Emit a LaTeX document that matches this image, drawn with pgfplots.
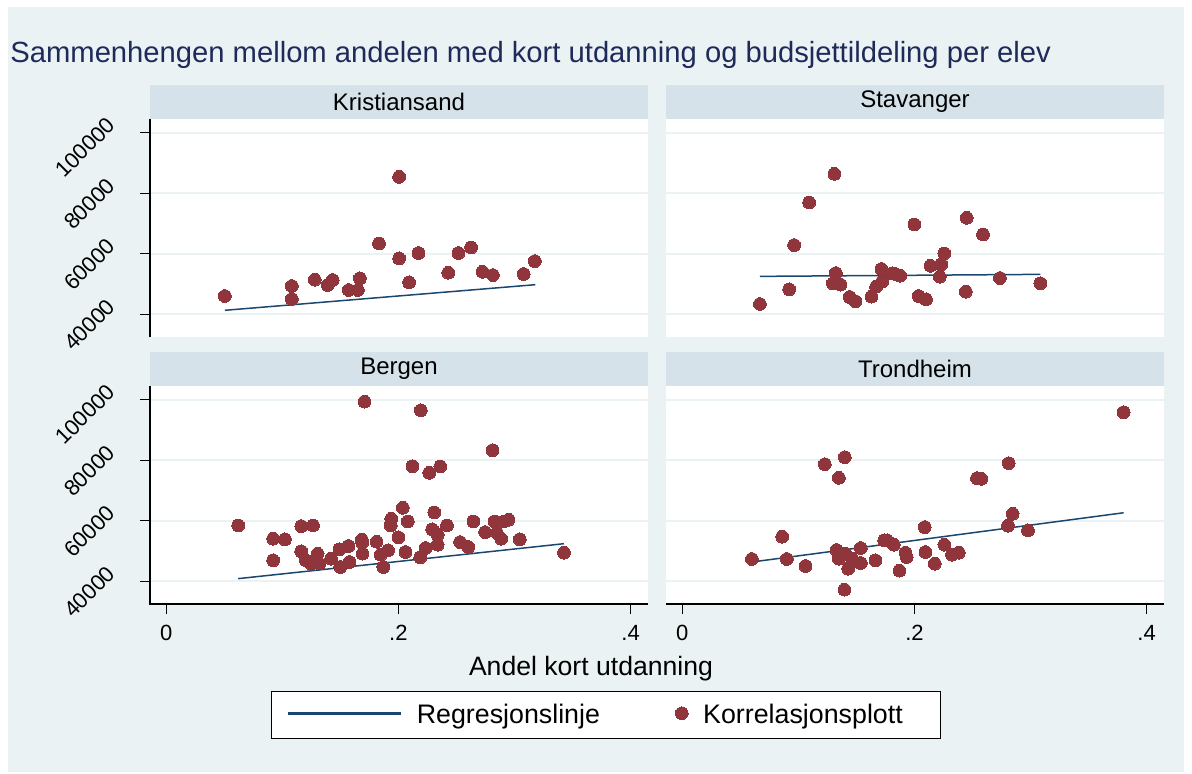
\documentclass[border=0pt]{standalone}
\usepackage{fontspec}
\setmainfont{Liberation Sans}
\usepackage{pgfplots}
\pgfplotsset{compat=1.18}
\definecolor{bgc}{RGB}{234,242,243}
\definecolor{stripc}{RGB}{214,226,233}
\definecolor{gridc}{RGB}{234,242,243}
\definecolor{navyc}{RGB}{26,71,111}
\definecolor{maroonc}{RGB}{144,53,59}
\definecolor{titlec}{RGB}{30,42,90}
\pgfplotsset{
  panel/.style={
    scale only axis, width=249pt, height=109pt, anchor=south west,
    xmin=-0.014, xmax=0.415, ymin=32500, ymax=104500,
    axis background/.style={fill=white},
    axis line style={draw=none},
    tick pos=left, tick align=outside,
    major tick length=5pt,
    tick style={black, line width=0.6pt},
    scaled y ticks=false, scaled x ticks=false,
    ytick={40000,60000,80000,100000},
    yticklabels={40000,60000,80000,100000},
    xtick={0,0.2,0.4},
    xticklabels={0,.2,.4},
    ymajorgrids,
    grid style={gridc, line width=0.9pt},
    /pgf/number format/assume math mode=true,
    ticklabel style={font=\fontsize{11}{13}\selectfont},
    yticklabel style={xshift=-12pt, yshift=8pt, rotate=45, anchor=east},
    xticklabel style={yshift=-2pt},
    every axis title shift=0pt,
    title style={at={(0.5,1)}, anchor=south, yshift=0pt, fill=stripc, minimum width=249pt,
      minimum height=17pt, inner sep=0pt, font=\fontsize{12}{14}\selectfont},
    clip=false,
  },
  toprow/.style={xtick=\empty},
  rightcol/.style={yticklabels={}, ytick style={draw=none}},
  dots/.style={only marks, mark=*, mark size=3.2pt,
    mark options={fill=maroonc, draw=maroonc, line width=0pt}},
  reg/.style={navyc, line width=0.75pt, mark=none},
  reglegend/.style={legend image code/.code={\draw[##1, line width=1.3pt] (0pt,0.9pt) -- (56.5pt,0.9pt);}},
  dotlegend/.style={legend image code/.code={\draw[##1] plot coordinates {(0pt,0.9pt)};}},
}
\begin{document}
\begin{tikzpicture}
\useasboundingbox (0,0) rectangle (596pt,386.5pt);
\fill[white] (0,0) rectangle (596pt,386.5pt);
\fill[bgc] (4pt,0.5pt) rectangle (592pt,383pt);
\node[anchor=base west, text=titlec, font=\fontsize{14.6}{17}\selectfont, inner sep=0pt]
  at (5pt,355pt) {Sammenhengen mellom andelen med kort utdanning og budsjettildeling per elev};

% Kristiansand
\begin{axis}[panel, toprow, at={(75pt,218pt)}, title={Kristiansand}]
\addplot[reg] coordinates {(0.0505,41319) (0.318,49780)};
\addplot[dots] coordinates {
(0.0505,46044) (0.1082,49341) (0.1082,45055) (0.1279,51429) (0.1391,49670)
(0.1434,51319) (0.1573,48022) (0.1651,48022) (0.1668,51868) (0.1833,63407)
(0.2006,58462) (0.2006,85385) (0.2092,50549) (0.2173,60220) (0.2430,53736)
(0.2517,60220) (0.2626,62088) (0.2724,54066) (0.2814,52967) (0.3079,53297)
(0.3175,57582)};
\draw[black, line width=0.6pt] (rel axis cs:0,0) -- (rel axis cs:0,1);
\end{axis}

% Stavanger
\begin{axis}[panel, toprow, rightcol, at={(333pt,218pt)}, title={Stavanger}]
\addplot[reg] coordinates {(0.0669,52527) (0.3085,53187)};
\addplot[dots] coordinates {
(0.0669,43407) (0.0921,48242) (0.0964,62857) (0.1093,76923) (0.1311,86374)
(0.1323,53626) (0.1297,50220) (0.1363,49780) (0.1443,45714) (0.1492,44286)
(0.1630,45824) (0.1670,49121) (0.1722,50769) (0.1716,54945) (0.1808,53516)
(0.1836,53297) (0.1877,52747) (0.2000,69670) (0.2037,46044) (0.2100,44945)
(0.2138,56044) (0.2218,52418) (0.2232,56484) (0.2258,60110) (0.2442,47473)
(0.2450,71868) (0.2591,66374) (0.2737,51978) (0.3085,50220)};
\end{axis}

% Bergen
\begin{axis}[panel, at={(75pt,84.5pt)}, title={Bergen},
  legend style={at={(0.9157,-0.5092)}, anchor=center, draw=black, line width=0.6pt,
    fill=white, legend columns=2, font=\fontsize{13.4}{15}\selectfont,
    inner xsep=7.5pt, inner ysep=6pt,
    /tikz/every odd column/.append style={column sep=7.5pt},
    /tikz/every even column/.append style={column sep=18pt},
    nodes={inner sep=0pt, text width=111.3pt, align=left}},
  legend cell align=left]
\addplot[reg, reglegend]
  coordinates {(0.062,40879) (0.3426,52418)};
\addlegendentry{Regresjonslinje}
\addplot[dots, dotlegend] coordinates {
(0.0620,58462) (0.0921,54066) (0.0921,46923) (0.1022,53846) (0.1163,58242)
(0.1264,58462) (0.1163,49890) (0.1203,46923) (0.1247,45824) (0.1304,49121)
(0.1319,45824) (0.1420,47473) (0.1492,50549) (0.1500,44725) (0.1570,51648)
(0.1579,46374) (0.1685,53736) (0.1691,49121) (0.1688,52747) (0.1708,99341)
(0.1812,53077) (0.1847,48791) (0.1870,44725) (0.1911,50220) (0.1934,58462)
(0.1939,60659) (0.2000,54505) (0.2038,64286) (0.2061,49670) (0.2081,59780)
(0.2121,78022) (0.2188,47912) (0.2193,96484) (0.2234,50989) (0.2266,75824)
(0.2291,57143) (0.2309,62747) (0.2338,55385) (0.2338,52088) (0.2361,77912)
(0.2418,58462) (0.2531,52967) (0.2603,51319) (0.2646,59780) (0.2747,56264)
(0.2811,83297) (0.2828,59780) (0.2848,56044) (0.2886,54066) (0.2906,59780)
(0.2949,60330) (0.3045,53846) (0.3426,49451)};
\addlegendentry{Korrelasjonsplott}
\draw[black, line width=0.6pt] (rel axis cs:0,1) -- (rel axis cs:0,0) -- (rel axis cs:1,0);
\end{axis}

% Trondheim
\begin{axis}[panel, rightcol, at={(333pt,84.5pt)}, title={Trondheim}]
\addplot[reg] coordinates {(0.06,46374) (0.3802,62637)};
\addplot[dots] coordinates {
(0.0600,47363) (0.0861,54725) (0.0901,47363) (0.1062,45055) (0.1228,78681)
(0.1349,74176) (0.1400,80989) (0.1329,50330) (0.1349,47473) (0.1406,49121)
(0.1429,44176) (0.1397,37253) (0.1463,47473) (0.1538,50989) (0.1538,46044)
(0.1664,46923) (0.1739,53516) (0.1765,53516) (0.1822,52088) (0.1871,43516)
(0.1923,49451) (0.1934,48022) (0.2089,57912) (0.2095,49670) (0.2175,45824)
(0.2258,52088) (0.2324,48791) (0.2382,49451) (0.2539,74066) (0.2577,73846)
(0.2812,79011) (0.2846,62308) (0.2806,58352) (0.2978,56813) (0.3802,95824)};
\draw[black, line width=0.6pt] (rel axis cs:0,0) -- (rel axis cs:1,0);
\end{axis}

\node[anchor=base, font=\fontsize{13.3}{15}\selectfont, inner sep=0pt]
  at (295.5pt,49pt) {Andel kort utdanning};
\end{tikzpicture}
\end{document}
